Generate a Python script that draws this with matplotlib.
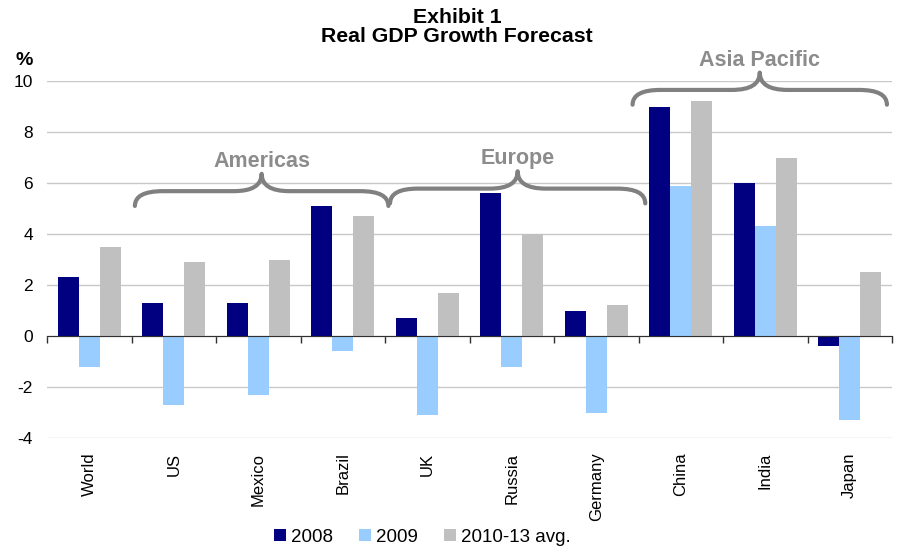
import matplotlib
matplotlib.use("Agg")
import matplotlib.pyplot as plt
import numpy as np
from matplotlib.patches import Patch, PathPatch
from matplotlib.path import Path

plt.rcParams["font.family"] = ["Liberation Sans", "DejaVu Sans"]
plt.rcParams["axes.unicode_minus"] = False

# --- data ------------------------------------------------------------------
COUNTRIES = ["World", "US", "Mexico", "Brazil", "UK",
             "Russia", "Germany", "China", "India", "Japan"]
GDP_2008 = [2.3, 1.3, 1.3, 5.1, 0.7, 5.6, 1.0, 9.0, 6.0, -0.4]
GDP_2009 = [-1.2, -2.7, -2.3, -0.6, -3.1, -1.2, -3.0, 5.9, 4.3, -3.3]
GDP_AVG = [3.5, 2.9, 3.0, 4.7, 1.7, 4.0, 1.2, 9.2, 7.0, 2.5]
SERIES = ["2008", "2009", "2010-13 avg."]

REGIONS = ["Americas", "Europe", "Asia Pacific"]
REGION_SPANS = [(0.54, 3.54), (3.56, 6.58), (6.43, 9.44)]   # x range, category units
REGION_LEVELS = [5.68, 5.78, 9.65]                           # brace bar height, %

COLORS = ["#000080", "#99CCFF", "#C0C0C0"]
BRACE_GRAY = "#808080"
YMIN, YMAX = -4, 10


def brace(ax, x0, x1, y, tip=0.68, drop=0.58, r=0.33):
    """Curly brace opening downward, tip pointing up at the middle."""
    xc = (x0 + x1) / 2
    verts = [(x0, y - drop), (x0, y), (x0 + r, y),
             (xc - r, y), (xc, y), (xc, y + tip),
             (xc, y), (xc + r, y),
             (x1 - r, y), (x1, y), (x1, y - drop)]
    codes = [Path.MOVETO, Path.CURVE3, Path.CURVE3,
             Path.LINETO, Path.CURVE3, Path.CURVE3,
             Path.CURVE3, Path.CURVE3,
             Path.LINETO, Path.CURVE3, Path.CURVE3]
    ax.add_patch(PathPatch(Path(verts, codes), fill=False, ec=BRACE_GRAY,
                           lw=3.0, capstyle="round", joinstyle="round",
                           clip_on=False, zorder=4))
    return xc, y + tip


fig = plt.figure(figsize=(9, 5.5), dpi=100)
ax = fig.add_axes([47 / 900, 1 - 438 / 550, 845 / 900, 357 / 550])

x = np.arange(len(COUNTRIES))
w = 0.25
for k, (vals, col) in enumerate(zip([GDP_2008, GDP_2009, GDP_AVG], COLORS)):
    ax.bar(x + (k - 1) * w, vals, width=w, color=col, edgecolor="none", zorder=3)

ax.set_xlim(-0.5, len(COUNTRIES) - 0.5)
ax.set_ylim(YMIN, YMAX)
ax.set_yticks(np.arange(YMIN, YMAX + 1, 2))
ax.tick_params(axis="y", length=0, pad=10, labelsize=12.5)
ax.grid(axis="y", color="#C8C8C8", lw=1.0, zorder=0)
ax.set_axisbelow(True)

for s in ("left", "right", "top"):
    ax.spines[s].set_visible(False)
ax.spines["bottom"].set_position(("data", 0))
ax.spines["bottom"].set_color("#303030")
ax.spines["bottom"].set_zorder(5)
ax.set_xticks(np.arange(-0.5, len(COUNTRIES), 1.0))
ax.set_xticklabels([])
ax.tick_params(axis="x", direction="out", length=5, width=1, color="#303030")

# category names hang under the plot area
for i, name in enumerate(COUNTRIES):
    ax.annotate(name, xy=(i, 0), xycoords=("data", "axes fraction"),
                xytext=(0, -10.5), textcoords="offset points",
                rotation=90, ha="center", va="top", fontsize=12)

# region braces
for name, (x0, x1), lvl in zip(REGIONS, REGION_SPANS, REGION_LEVELS):
    xc, ytip = brace(ax, x0, x1, lvl)
    ax.text(xc, ytip + 0.27, name, ha="center", va="baseline", fontsize=15.5,
            fontweight="bold", color="#8C8C8C", clip_on=False)

fig.text(457 / 900, 1 - 23 / 550, "Exhibit 1", ha="center", va="baseline",
         fontsize=15.3, fontweight="bold")
fig.text(457 / 900, 1 - 42 / 550, "Real GDP Growth Forecast", ha="center",
         va="baseline", fontsize=15.3, fontweight="bold")
fig.text(33 / 900, 1 - 65 / 550, "%", ha="right", va="baseline",
         fontsize=14, fontweight="bold")

handles = [Patch(facecolor=c, edgecolor="none") for c in COLORS]
fig.legend(handles, SERIES, loc="center", bbox_to_anchor=(422 / 900, 1 - 537 / 550),
           ncol=3, frameon=False, fontsize=13.5, handlelength=0.65,
           handleheight=0.65, handletextpad=0.25, columnspacing=1.4)

fig.savefig("out.png", dpi=100)
